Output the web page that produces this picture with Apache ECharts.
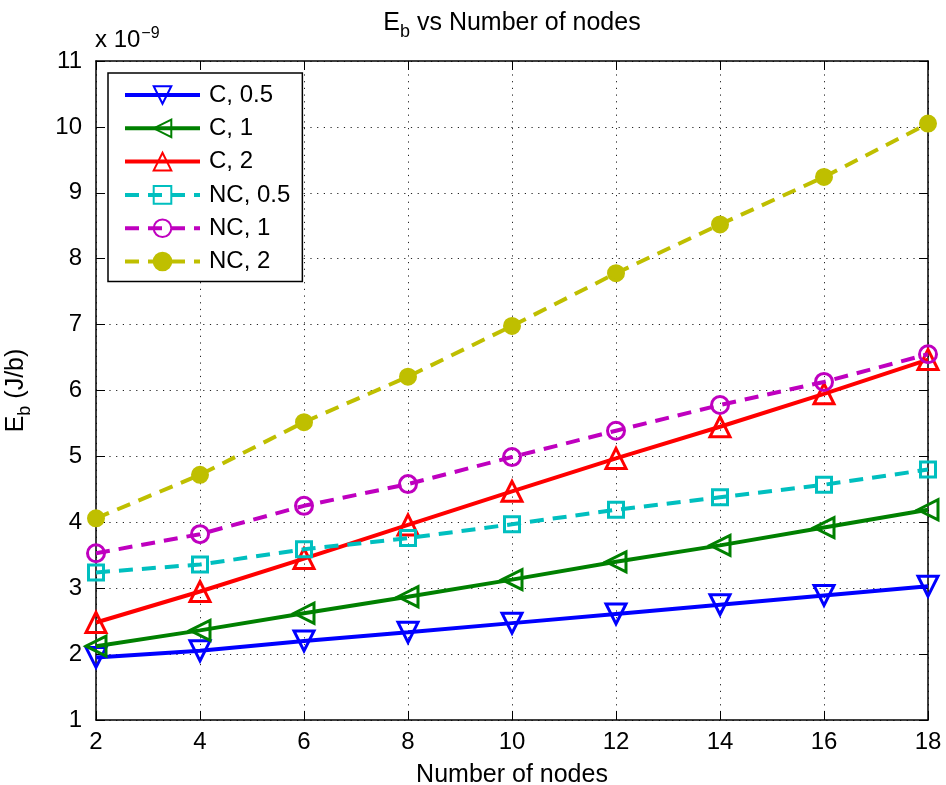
<!DOCTYPE html>
<html><head><meta charset="utf-8">
<script src="https://cdn.jsdelivr.net/npm/echarts@6/dist/echarts.min.js"></script>
<style>html,body{margin:0;padding:0;background:#fff}#c{width:946px;height:785px}</style>
</head><body><div id="c"></div>
<script>
const nodes = [2, 4, 6, 8, 10, 12, 14, 16, 18];
const seriesNames = ['C, 0.5', 'C, 1', 'C, 2', 'NC, 0.5', 'NC, 1', 'NC, 2'];
const c05 = [1.95, 2.05, 2.20, 2.33, 2.47, 2.61, 2.75, 2.89, 3.03];
const c1 = [2.12, 2.36, 2.62, 2.87, 3.13, 3.40, 3.65, 3.92, 4.19];
const c2 = [2.48, 2.95, 3.45, 3.96, 4.47, 4.97, 5.45, 5.95, 6.47];
const nc05 = [3.24, 3.36, 3.59, 3.76, 3.97, 4.19, 4.38, 4.57, 4.80];
const nc1 = [3.53, 3.82, 4.25, 4.58, 4.99, 5.39, 5.78, 6.13, 6.55];
const nc2 = [4.06, 4.72, 5.52, 6.21, 6.98, 7.78, 8.52, 9.24, 10.05];
const yTicks = [1, 2, 3, 4, 5, 6, 7, 8, 9, 10, 11];
const xTicks = [2, 4, 6, 8, 10, 12, 14, 16, 18];

const FONT = '"Liberation Sans", Arial, Helvetica, sans-serif';
const FS = 24;
const chart = echarts.init(document.getElementById('c'));
const pair = arr => nodes.map((n, i) => [n, arr[i]]);
const styles = [
  {data: c05, color: '#0000ff', symbol: 'triangle', rot: 180, size: 20, dash: 'solid', filled: false},
  {data: c1, color: '#008000', symbol: 'triangle', rot: 90, size: 20, dash: 'solid', filled: false},
  {data: c2, color: '#ff0000', symbol: 'triangle', rot: 0, size: 20, dash: 'solid', filled: false},
  {data: nc05, color: '#00bfbf', symbol: 'rect', rot: 0, size: 15, dash: [14, 9], filled: false},
  {data: nc1, color: '#bf00bf', symbol: 'circle', rot: 0, size: 17, dash: [14, 9], filled: false},
  {data: nc2, color: '#bfbf00', symbol: 'circle', rot: 0, size: 15, dash: [14, 9], filled: true}
];
const series = styles.map((s, i) => ({
  name: seriesNames[i], type: 'line', data: pair(s.data),
  symbol: s.symbol, symbolSize: s.size, symbolRotate: s.rot,
  lineStyle: {color: s.color, width: 4, type: s.dash},
  itemStyle: {color: s.filled ? s.color : 'rgba(255,255,255,0)', borderColor: s.color, borderWidth: 3},
  animation: false, z: 3 + i
}));
const axisLine = {show: true, lineStyle: {color: '#000', width: 1.5}};
const tick = {show: true, inside: true, length: 9, lineStyle: {color: '#000', width: 1}};
const gridLine = {show: true, lineStyle: {color: '#222', width: 1, type: [1.2, 5.5]}};
chart.setOption({
  animation: false,
  grid: {left: 96, right: 18, top: 61, bottom: 65, containLabel: false, outerBoundsMode: 'none'},
  legend: {
    orient: 'vertical', left: 108, top: 73,
    data: seriesNames,
    itemWidth: 75, itemHeight: 22, itemGap: 9.3,
    padding: [10, 12, 8, 15],
    borderColor: '#000', borderWidth: 1.5, backgroundColor: '#fff',
    lineStyle: {width: 4},
    textStyle: {fontFamily: FONT, fontSize: 24, color: '#000', padding: [0, 0, 0, 4]}
  },
  graphic: [{
    type: 'text', left: 95, top: 26,
    style: {text: '{a|x 10}{s|−9}', rich: {
      a: {fontFamily: FONT, fontSize: FS, fill: '#000'},
      s: {fontFamily: FONT, fontSize: 16, fill: '#000', padding: [0, 0, 12, 1]}
    }}
  }, {
    type: 'text', x: 512, y: 6,
    style: {text: '{a|E}{s|b}{a| vs Number of nodes}', align: 'center', rich: {
      a: {fontFamily: FONT, fontSize: 25, fill: '#000'},
      s: {fontFamily: FONT, fontSize: 18, fill: '#000', padding: [17, 0, 0, 0]}
    }}
  }],
  xAxis: [{
    type: 'value', min: 2, max: 18, interval: 2,
    name: 'Number of nodes', nameLocation: 'middle', nameGap: 43,
    nameTextStyle: {fontFamily: FONT, fontSize: 25, color: '#000'},
    axisLine: axisLine, axisTick: tick, splitLine: gridLine,
    axisLabel: {fontFamily: FONT, fontSize: FS, color: '#000', margin: 10,
      formatter: v => xTicks.includes(v) ? String(v) : ''}
  }, {
    type: 'value', min: 2, max: 18, interval: 2, position: 'top',
    axisLine: axisLine, axisTick: tick, splitLine: {show: false}, axisLabel: {show: false}
  }],
  yAxis: [{
    type: 'value', min: 1, max: 11, interval: 1,
    name: '{a|E}{s|b}{a| (J/b)}', nameLocation: 'middle', nameGap: 62, nameRotate: 90,
    nameTextStyle: {rich: {
      a: {fontFamily: FONT, fontSize: 25, color: '#000'},
      s: {fontFamily: FONT, fontSize: 18, color: '#000', padding: [17, 0, 0, 0]}
    }},
    axisLine: axisLine, axisTick: tick, splitLine: gridLine,
    axisLabel: {fontFamily: FONT, fontSize: FS, color: '#000', margin: 14,
      formatter: v => yTicks.includes(v) ? String(v) : ''}
  }, {
    type: 'value', min: 1, max: 11, interval: 1, position: 'right',
    axisLine: axisLine, axisTick: tick, splitLine: {show: false}, axisLabel: {show: false}
  }],
  series: series
});
</script></body></html>
